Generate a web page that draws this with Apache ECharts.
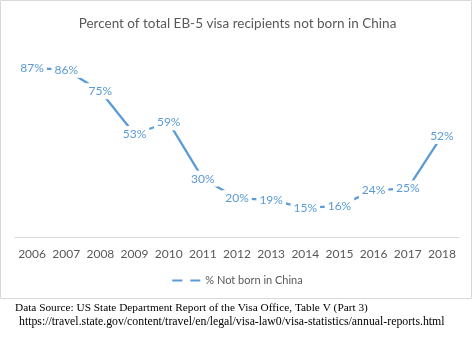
<!DOCTYPE html>
<html><head><meta charset="utf-8">
<script src="https://cdn.jsdelivr.net/npm/echarts@6/dist/echarts.min.js"></script>
<style>html,body{margin:0;padding:0;background:#fff}#c{width:475px;height:338px}</style>
</head><body><div id="c"></div>
<script>
const years = ['2006','2007','2008','2009','2010','2011','2012','2013','2014','2015','2016','2017','2018'];
const notBornInChina = [87,86,75,53,59,30,20,19,15,16,24,25,52];
const seriesName = '% Not born in China';
const titleText = 'Percent of total EB-5 visa recipients not born in China';
const sourceLine1 = 'Data Source: US State Department Report of the Visa Office, Table V (Part 3)';
const sourceLine2 = 'https://travel.state.gov/content/travel/en/legal/visa-law0/visa-statistics/annual-reports.html';

const chart = echarts.init(document.getElementById('c'), null, {renderer:'canvas'});
const font = 'Lato, "Open Sans", sans-serif';
chart.setOption({
  animation:false,
  backgroundColor:'#fff',
  title:{text:titleText,left:'center',top:12,textStyle:{fontFamily:font,fontSize:13.5,fontWeight:'normal',color:'#595959'}},
  grid:{left:15,right:16,top:42.6,bottom:101},
  xAxis:{type:'category',data:years,boundaryGap:true,
    axisLine:{lineStyle:{color:'#d9d9d9',width:1}},axisTick:{show:false},
    axisLabel:{interval:0,color:'#595959',fontFamily:font,fontSize:12,margin:11}},
  yAxis:{type:'value',min:0,max:100,show:false,splitLine:{show:false}},
  legend:{bottom:47,left:'center',itemWidth:28,itemHeight:3,itemGap:4,
    icon:'path://M0,0h10v2h-10z M18,0h10v2h-10z',
    itemStyle:{color:'#5b9bd5',opacity:1,borderWidth:0},
    textStyle:{color:'#595959',fontFamily:font,fontSize:11},data:[seriesName]},
  series:[{name:seriesName,type:'line',data:notBornInChina,
    lineStyle:{color:'#5b9bd5',width:2.25},itemStyle:{color:'#5b9bd5'},
    symbol:'circle',symbolSize:0.1,showSymbol:true,
    label:{show:true,position:'inside',formatter:'{c}%',color:'#5b9bd5',fontFamily:font,fontSize:12,
      backgroundColor:'#fff',padding:[2,3]}}],
  graphic:[
    {type:'rect',shape:{x:0.5,y:0.5,width:471,height:298},style:{fill:null,stroke:'#d9d9d9',lineWidth:1},z:-1},
    {type:'text',left:15,top:303,style:{text:sourceLine1,font:'11.3px "Liberation Serif", serif',fill:'#000'}},
    {type:'text',left:19,top:316,style:{text:sourceLine2,font:'11.8px "Liberation Serif", serif',fill:'#000'}}
  ]
});
</script></body></html>
